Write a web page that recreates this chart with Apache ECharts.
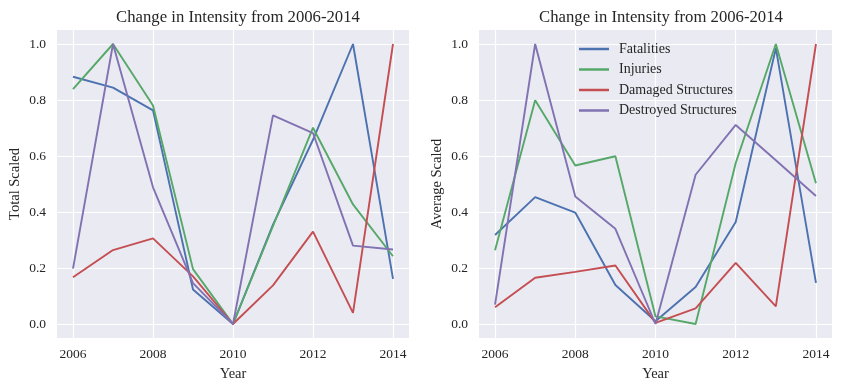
<!DOCTYPE html>
<html>
<head>
<meta charset="utf-8">
<script src="https://cdn.jsdelivr.net/npm/echarts@6/dist/echarts.min.js"></script>
<style>html,body{margin:0;padding:0;background:#fff}#c{width:841px;height:391px}</style>
</head>
<body>
<div id="c"></div>
<script>
const years = [2006, 2007, 2008, 2009, 2010, 2011, 2012, 2013, 2014];
const xTicks = [2006, 2008, 2010, 2012, 2014];
const yTicks = [0, 0.2, 0.4, 0.6, 0.8, 1.0];
const seriesNames = ['Fatalities', 'Injuries', 'Damaged Structures', 'Destroyed Structures'];
const titleText = 'Change in Intensity from 2006-2014';

// Left panel: Total Scaled
const totalFatalities = [0.883, 0.844, 0.763, 0.123, 0.0, 0.355, 0.658, 1.0, 0.161];
const totalInjuries   = [0.839, 1.0, 0.780, 0.196, 0.0, 0.350, 0.701, 0.427, 0.242];
const totalDamaged    = [0.167, 0.264, 0.306, 0.170, 0.0, 0.138, 0.330, 0.040, 1.0];
const totalDestroyed  = [0.198, 1.0, 0.488, 0.146, 0.0, 0.745, 0.682, 0.280, 0.266];

// Right panel: Average Scaled
const avgFatalities = [0.318, 0.453, 0.398, 0.139, 0.010, 0.132, 0.364, 0.985, 0.147];
const avgInjuries   = [0.263, 0.799, 0.566, 0.599, 0.027, 0.0, 0.575, 1.0, 0.503];
const avgDamaged    = [0.060, 0.165, 0.186, 0.209, 0.004, 0.056, 0.218, 0.063, 1.0];
const avgDestroyed  = [0.069, 1.0, 0.455, 0.340, 0.0, 0.533, 0.711, 0.585, 0.457];

const colors = ['#4C72B0', '#55A868', '#C44E52', '#8172B2'];
const FONT = '"Liberation Serif", "DejaVu Serif", serif';
const TXT = '#262626';

function pair(vals) { return years.map((y, i) => [y, vals[i]]); }

function xAxis(gi) {
  return {
    type: 'value', gridIndex: gi, min: 2005.6, max: 2014.4,
    name: 'Year', nameLocation: 'middle', nameGap: 29,
    nameTextStyle: {fontFamily: FONT, fontSize: 14.5, color: TXT},
    axisLine: {show: false},
    axisTick: {show: false, customValues: xTicks},
    axisLabel: {customValues: xTicks, fontFamily: FONT, fontSize: 13.5, color: TXT, margin: 9,
      formatter: v => String(Math.round(v))},
    splitLine: {show: true, lineStyle: {color: '#ffffff', width: 1.2}}
  };
}
function yAxis(gi, name) {
  return {
    type: 'value', gridIndex: gi, min: -0.05, max: 1.05,
    name: name, nameLocation: 'middle', nameGap: 34,
    nameTextStyle: {fontFamily: FONT, fontSize: 14.5, color: TXT},
    axisLine: {show: false},
    axisTick: {show: false, customValues: yTicks},
    axisLabel: {customValues: yTicks, fontFamily: FONT, fontSize: 13.5, color: TXT, margin: 11,
      formatter: v => v.toFixed(1)},
    splitLine: {show: true, lineStyle: {color: '#ffffff', width: 1.2}}
  };
}
function line(name, vals, gi, ci) {
  return {
    name: name, type: 'line', xAxisIndex: gi, yAxisIndex: gi,
    data: pair(vals), showSymbol: false, symbol: 'none',
    lineStyle: {color: colors[ci], width: 1.9}, itemStyle: {color: colors[ci]},
    animation: false
  };
}

const chart = echarts.init(document.getElementById('c'), null, {renderer: 'canvas'});
chart.setOption({
  animation: false,
  title: [
    {text: titleText, left: 233, top: 4, textAlign: 'center',
      textStyle: {fontFamily: FONT, fontSize: 16.7, fontWeight: 'normal', color: TXT}},
    {text: titleText, left: 656, top: 4, textAlign: 'center',
      textStyle: {fontFamily: FONT, fontSize: 16.7, fontWeight: 'normal', color: TXT}}
  ],
  grid: [
    {left: 57, top: 30, width: 352, height: 308, show: true, backgroundColor: '#EAEAF2', borderWidth: 0},
    {left: 479, top: 30, width: 353, height: 308, show: true, backgroundColor: '#EAEAF2', borderWidth: 0}
  ],
  xAxis: [xAxis(0), xAxis(1)],
  yAxis: [yAxis(0, 'Total Scaled'), yAxis(1, 'Average Scaled')],
  legend: {
    data: seriesNames, orient: 'vertical', left: 574, top: 37,
    itemWidth: 30, itemHeight: 2.5, itemGap: 6.5, icon: 'rect',
    textStyle: {fontFamily: FONT, fontSize: 14, color: TXT, padding: [0, 0, 0, 5]}
  },
  series: [
    line(seriesNames[0], totalFatalities, 0, 0),
    line(seriesNames[1], totalInjuries, 0, 1),
    line(seriesNames[2], totalDamaged, 0, 2),
    line(seriesNames[3], totalDestroyed, 0, 3),
    line(seriesNames[0], avgFatalities, 1, 0),
    line(seriesNames[1], avgInjuries, 1, 1),
    line(seriesNames[2], avgDamaged, 1, 2),
    line(seriesNames[3], avgDestroyed, 1, 3)
  ]
});
</script>
</body>
</html>
